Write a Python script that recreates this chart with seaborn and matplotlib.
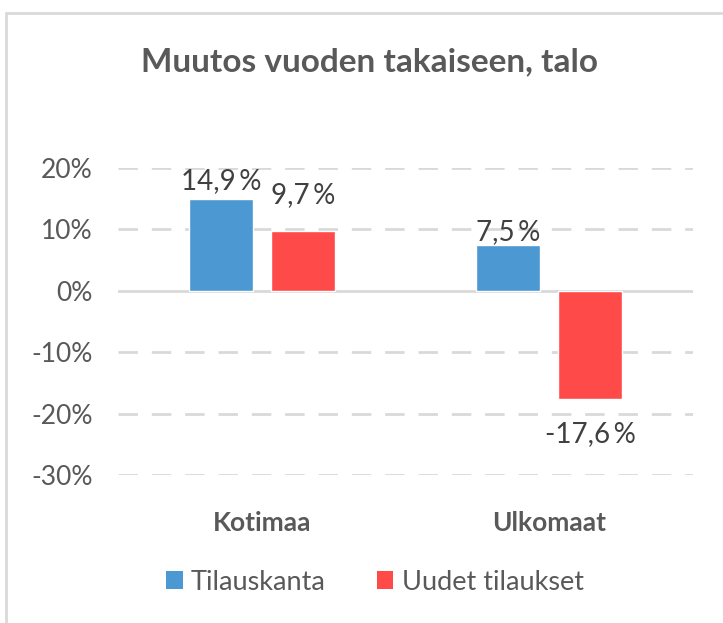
import pandas as pd
import seaborn as sns
import matplotlib.pyplot as plt
from matplotlib.patches import Patch
from matplotlib.lines import Line2D

# Datos del gráfico
categorias = ['Kotimaa', 'Ulkomaat']
series = ['Tilauskanta', 'Uudet tilaukset']
tilauskanta = [14.9, 7.5]
uudet_tilaukset = [9.7, -17.6]
y_ticks = [-30, -20, -10, 0, 10, 20]
colores = ['#4b98d2', '#ff4a4a']

# Desplazamiento vertical de cada etiqueta (puntos), como en el original
desplazamientos = [[4, 0], [17, -16]]

df = pd.DataFrame({
    'Alue': categorias * 2,
    'Sarja': [series[0]] * 2 + [series[1]] * 2,
    'Muutos': tilauskanta + uudet_tilaukset,
})

sns.set_style('white')
plt.rcParams['font.family'] = ['Lato', 'DejaVu Sans']

fig = plt.figure(figsize=(7.23, 6.23), dpi=100)
ax = fig.add_axes([0.1632, 0.2376, 0.7953, 0.4927])

sns.barplot(data=df, x='Alue', y='Muutos', hue='Sarja', order=categorias,
            hue_order=series, palette=colores, width=0.57, gap=0.22,
            saturation=1, legend=False, ax=ax)

ax.set_ylim(-30, 20)
ax.set_xlim(-0.5, 1.5)
ax.set_yticks(y_ticks)
ax.set_yticklabels([f'{t}%' for t in y_ticks], fontsize=19, color='#595959')
ax.tick_params(axis='y', length=0, pad=18)
ax.tick_params(axis='x', length=0, pad=26)
for lbl in ax.get_xticklabels():
    lbl.set_fontsize(19)
    lbl.set_fontweight('bold')
    lbl.set_color('#595959')
ax.set_xlabel('')
ax.set_ylabel('')
for s in ax.spines.values():
    s.set_visible(False)

# Líneas de la cuadrícula
for t in y_ticks:
    if t == 0:
        ax.axhline(t, color='#d9d9d9', lw=2, zorder=0)
    else:
        ax.axhline(t, color='#d9d9d9', lw=2, ls=(0, (7, 5)), zorder=0)

# Etiquetas de datos
for i, cont in enumerate(ax.containers):
    for j, bar in enumerate(cont):
        valor = bar.get_height() + bar.get_y() if bar.get_y() != 0 else bar.get_height()
        texto = f'{valor:.1f}'.replace('.', ',') + '\u2009%'
        x = bar.get_x() + bar.get_width() / 2
        dy = desplazamientos[i][j]
        ax.annotate(texto, (x, valor), xytext=(0, dy), textcoords='offset points',
                    ha='center', va='bottom' if valor >= 0 else 'top', fontsize=20,
                    color='#404040', annotation_clip=False)

fig.text(370 / 723, 1 - 62 / 623, 'Muutos vuoden takaiseen, talo', ha='center',
         va='center', fontsize=24, fontweight='bold', color='#595959')

# Leyenda
handles = [Patch(facecolor=c, edgecolor='none') for c in colores]
fig.legend(handles, series, loc='center', bbox_to_anchor=(375 / 723, 1 - 582 / 623),
           ncol=2, frameon=False, fontsize=19.5, handlelength=0.6, handleheight=0.6,
           handletextpad=0.3, columnspacing=1.9, labelcolor='#595959')

# Borde del área del gráfico
fig.add_artist(Line2D([6.5 / 723, 6.5 / 723], [0, 1 - 13 / 623], color='#d9d9d9', lw=2,
                      transform=fig.transFigure))
fig.add_artist(Line2D([6.5 / 723, 1], [1 - 13 / 623, 1 - 13 / 623], color='#d9d9d9', lw=2,
                      transform=fig.transFigure))

fig.savefig('out.png', dpi=100)
